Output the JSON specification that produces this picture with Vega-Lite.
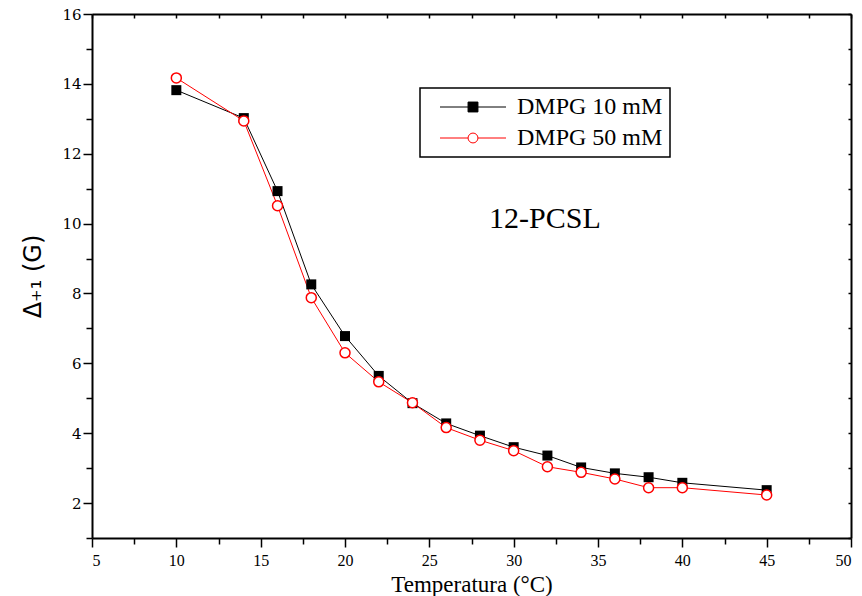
{
  "$schema": "https://vega.github.io/schema/vega-lite/v6.json",
  "width": 759,
  "height": 524,
  "autosize": {"type": "none"},
  "padding": {"left": 92, "top": 14, "right": 11, "bottom": 58},
  "background": "white",
  "config": {"view": {"stroke": null}, "legend": {"strokeWidth": 1.5, "labelFont": "Liberation Serif", "symbolOpacity": 1}},
  "data": {"values": [
    {"t": 10, "d": 13.82, "s": "DMPG 10 mM"},
    {"t": 14, "d": 13.02, "s": "DMPG 10 mM"},
    {"t": 16, "d": 10.93, "s": "DMPG 10 mM"},
    {"t": 18, "d": 8.26, "s": "DMPG 10 mM"},
    {"t": 20, "d": 6.78, "s": "DMPG 10 mM"},
    {"t": 22, "d": 5.64, "s": "DMPG 10 mM"},
    {"t": 24, "d": 4.86, "s": "DMPG 10 mM"},
    {"t": 26, "d": 4.28, "s": "DMPG 10 mM"},
    {"t": 28, "d": 3.93, "s": "DMPG 10 mM"},
    {"t": 30, "d": 3.60, "s": "DMPG 10 mM"},
    {"t": 32, "d": 3.36, "s": "DMPG 10 mM"},
    {"t": 34, "d": 3.02, "s": "DMPG 10 mM"},
    {"t": 36, "d": 2.85, "s": "DMPG 10 mM"},
    {"t": 38, "d": 2.74, "s": "DMPG 10 mM"},
    {"t": 40, "d": 2.58, "s": "DMPG 10 mM"},
    {"t": 45, "d": 2.37, "s": "DMPG 10 mM"},
    {"t": 10, "d": 14.17, "s": "DMPG 50 mM"},
    {"t": 14, "d": 12.94, "s": "DMPG 50 mM"},
    {"t": 16, "d": 10.51, "s": "DMPG 50 mM"},
    {"t": 18, "d": 7.88, "s": "DMPG 50 mM"},
    {"t": 20, "d": 6.30, "s": "DMPG 50 mM"},
    {"t": 22, "d": 5.47, "s": "DMPG 50 mM"},
    {"t": 24, "d": 4.87, "s": "DMPG 50 mM"},
    {"t": 26, "d": 4.16, "s": "DMPG 50 mM"},
    {"t": 28, "d": 3.80, "s": "DMPG 50 mM"},
    {"t": 30, "d": 3.50, "s": "DMPG 50 mM"},
    {"t": 32, "d": 3.04, "s": "DMPG 50 mM"},
    {"t": 34, "d": 2.88, "s": "DMPG 50 mM"},
    {"t": 36, "d": 2.69, "s": "DMPG 50 mM"},
    {"t": 38, "d": 2.44, "s": "DMPG 50 mM"},
    {"t": 40, "d": 2.44, "s": "DMPG 50 mM"},
    {"t": 45, "d": 2.23, "s": "DMPG 50 mM"}
  ]},
  "resolve": {"axis": {"x": "independent", "y": "independent"}},
  "layer": [
    {
      "transform": [{"filter": "datum.s === 'DMPG 10 mM'"}],
      "mark": {"type": "line", "color": "black", "strokeWidth": 1},
      "encoding": {
        "x": {"field": "t", "type": "quantitative", "scale": {"domain": [5, 50], "nice": false, "zero": false},
          "axis": {"orient": "bottom", "title": "Temperatura (°C)", "values": [5, 7.5, 10, 12.5, 15, 17.5, 20, 22.5, 25, 27.5, 30, 32.5, 35, 37.5, 40, 42.5, 45, 47.5, 50],
            "labelExpr": "datum.value % 5 === 0 ? datum.label : ''",
            "grid": false, "domainColor": "black", "domainWidth": 2, "tickColor": "black", "tickWidth": 1.5,
            "tickSize": {"condition": {"test": "datum.value % 5 === 0", "value": 9}, "value": 6},
            "labelFont": "Liberation Serif", "labelFontSize": 16, "labelColor": "black", "labelPadding": 5,
            "titleFont": "Liberation Serif", "titleFontSize": 23, "titleFontWeight": "normal", "titleColor": "black", "titlePadding": 5}},
        "y": {"field": "d", "type": "quantitative", "scale": {"domain": [1, 16], "nice": false, "zero": false},
          "axis": {"orient": "left", "title": "Δ₊₁ (G)", "values": [1, 2, 3, 4, 5, 6, 7, 8, 9, 10, 11, 12, 13, 14, 15, 16],
            "labelExpr": "datum.value % 2 === 0 ? datum.label : ''",
            "grid": false, "domainColor": "black", "domainWidth": 2, "tickColor": "black", "tickWidth": 1.5,
            "tickSize": {"condition": {"test": "datum.value % 2 === 0", "value": 9}, "value": 6},
            "labelFont": "DejaVu Serif", "labelFontSize": 15, "labelColor": "black", "labelPadding": 2,
            "titleFont": "DejaVu Sans", "titleFontSize": 24, "titleFontWeight": "normal", "titleColor": "black", "titlePadding": 16}}
      }
    },
    {
      "transform": [{"filter": "datum.s === 'DMPG 50 mM'"}],
      "mark": {"type": "line", "color": "red", "strokeWidth": 1},
      "encoding": {
        "x": {"field": "t", "type": "quantitative", "scale": {"domain": [5, 50], "nice": false, "zero": false},
          "axis": {"orient": "top", "title": null, "labels": false, "values": [5, 7.5, 10, 12.5, 15, 17.5, 20, 22.5, 25, 27.5, 30, 32.5, 35, 37.5, 40, 42.5, 45, 47.5, 50],
            "grid": false, "domainColor": "black", "domainWidth": 2, "tickColor": "black", "tickWidth": 1.5, "tickSize": -4}},
        "y": {"field": "d", "type": "quantitative", "scale": {"domain": [1, 16], "nice": false, "zero": false},
          "axis": {"orient": "right", "title": null, "labels": false, "values": [1, 2, 3, 4, 5, 6, 7, 8, 9, 10, 11, 12, 13, 14, 15, 16],
            "grid": false, "domainColor": "black", "domainWidth": 2, "tickColor": "black", "tickWidth": 1.5, "tickSize": -3}}
      }
    },
    {
      "transform": [{"filter": "datum.s === 'DMPG 10 mM'"}],
      "mark": {"type": "point", "shape": "square", "filled": true, "color": "black", "size": 100, "opacity": 1},
      "encoding": {
        "x": {"field": "t", "type": "quantitative", "axis": null},
        "y": {"field": "d", "type": "quantitative", "axis": null}
      }
    },
    {
      "transform": [{"filter": "datum.s === 'DMPG 50 mM'"}],
      "mark": {"type": "point", "shape": "circle", "filled": false, "fill": "white", "stroke": "red", "strokeWidth": 1.5, "size": 100, "opacity": 1, "fillOpacity": 1},
      "encoding": {
        "x": {"field": "t", "type": "quantitative", "axis": null},
        "y": {"field": "d", "type": "quantitative", "axis": null}
      }
    },
    {
      "data": {"values": [{"t": 31.85, "d": 9.87, "label": "12-PCSL"}]},
      "mark": {"type": "text", "font": "Liberation Serif", "fontSize": 30, "color": "black", "align": "center", "baseline": "alphabetic"},
      "encoding": {
        "x": {"field": "t", "type": "quantitative", "axis": null},
        "y": {"field": "d", "type": "quantitative", "axis": null},
        "text": {"field": "label"}
      }
    },
    {
      "transform": [{"filter": "false"}],
      "mark": {"type": "point", "filled": true, "strokeWidth": 1, "opacity": 1},
      "encoding": {
        "x": {"field": "t", "type": "quantitative", "axis": null},
        "y": {"field": "d", "type": "quantitative", "axis": null},
        "shape": {"field": "s", "type": "nominal",
          "scale": {"domain": ["DMPG 10 mM", "DMPG 50 mM"], "range": ["M-3,0H3M-0.45,-0.45H0.45V0.45H-0.45Z", "M-3,0H-0.45M0.45,0H3M-0.45,0A0.45,0.45 0 1,0 0.45,0A0.45,0.45 0 1,0 -0.45,0Z"]},
          "legend": {"orient": "none", "legendX": 328, "legendY": 74, "title": null, "direction": "vertical",
            "strokeColor": "black", "padding": 7, "fillColor": "white",
            "symbolSize": 484, "symbolStrokeWidth": 1, "symbolOpacity": 1, "symbolOffset": 34, "labelOffset": 32, "rowPadding": 7,
            "labelFont": "Liberation Serif", "labelFontSize": 24, "labelColor": "black", "labelLimit": 400}},
        "fill": {"field": "s", "type": "nominal", "scale": {"domain": ["DMPG 10 mM", "DMPG 50 mM"], "range": ["black", "white"]}},
        "stroke": {"field": "s", "type": "nominal", "scale": {"domain": ["DMPG 10 mM", "DMPG 50 mM"], "range": ["black", "red"]}}
      }
    }
  ]
}
